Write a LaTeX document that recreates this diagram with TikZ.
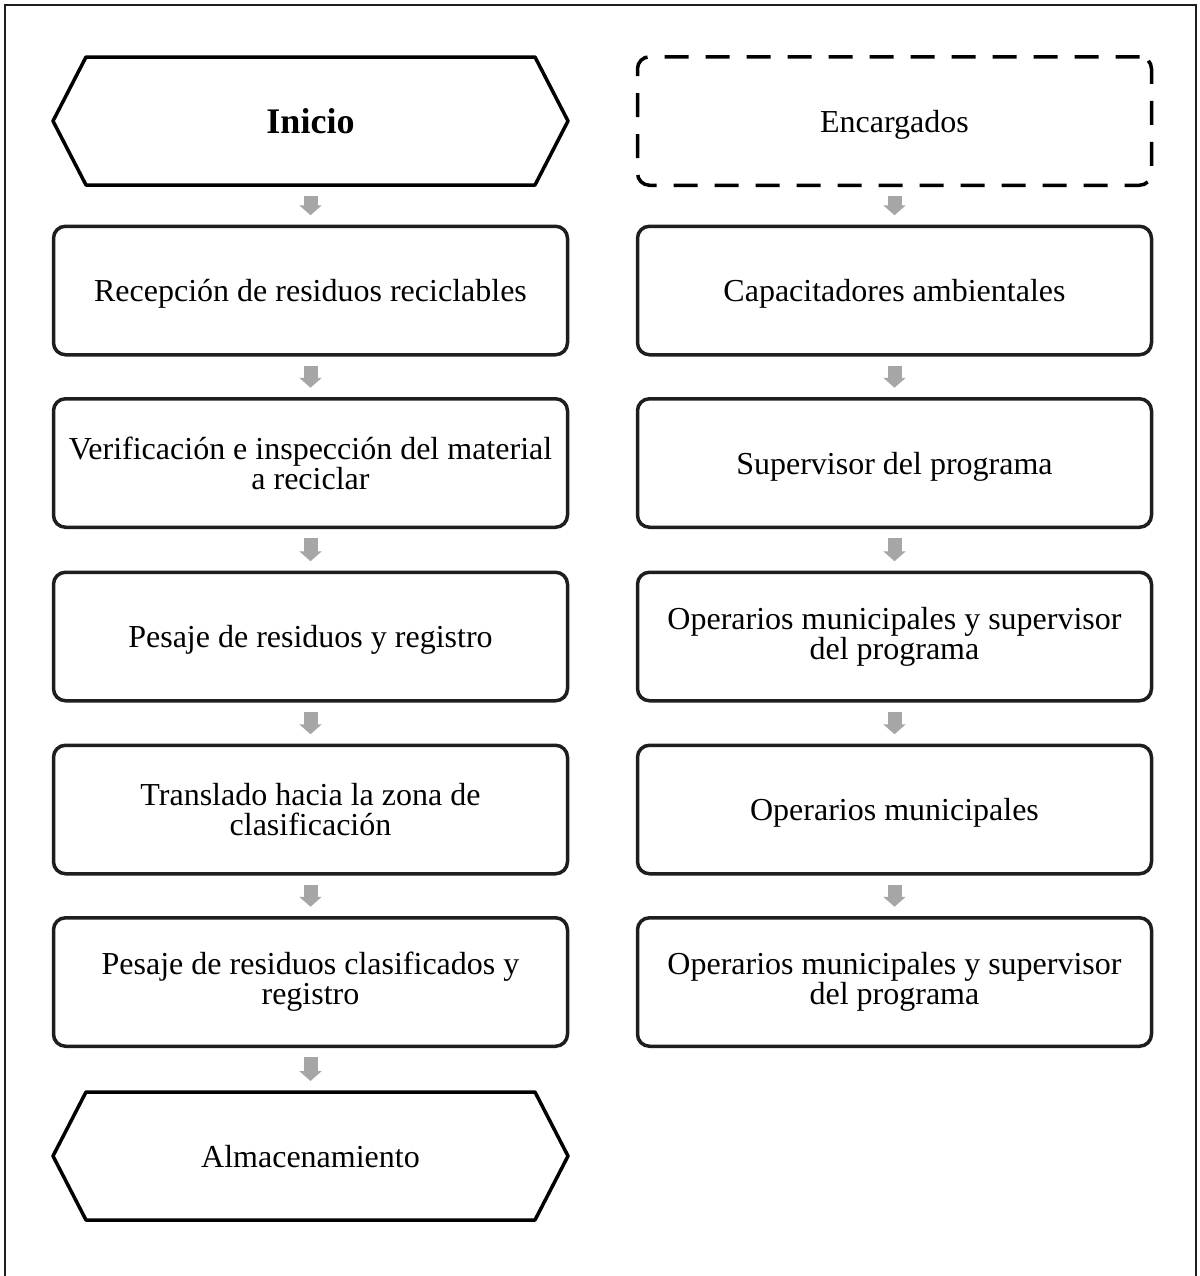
\documentclass[tikz,border=0pt]{standalone}
\usepackage{fontspec}
\setmainfont{Liberation Serif}
\usetikzlibrary{calc,arrows.meta}

\definecolor{edgeink}{HTML}{1E1E1E}
\definecolor{flowgray}{HTML}{A6A6A6}

\tikzset{
  every node/.style={font=\fontsize{16pt}{15pt}\selectfont, text=black},
  stepbox/.style={draw=edgeink, line width=1.75pt, rounded corners=6pt,
    minimum width=257pt, minimum height=64.25pt, align=center,
    outer sep=0pt, inner sep=0pt},
  oneline/.style={text depth=0pt},
  dashbox/.style={stepbox, draw=black, dash pattern=on 12pt off 8.5pt},
  hexslot/.style={minimum width=257.5pt, minimum height=64pt, align=center,
    outer sep=0pt, inner sep=0pt, text depth=0pt},
  hexline/.style={draw=black, line width=1.75pt, line join=round},
  flow/.style={draw=flowgray, line width=7pt,
    -{Triangle[width=11pt,length=5pt]}, shorten <=5.5pt, shorten >=5.5pt},
  frame/.style={draw=edgeink, line width=1pt},
}

\begin{document}
\begin{tikzpicture}[x=0.5pt, y=-0.5pt]
  \useasboundingbox (0,0) rectangle (1200,1276);

  % open frame around the chart
  \draw[frame] (5,1276) -- (5,5) -- (1196,5) -- (1196,1276);

  % process column
  \node[hexslot] (ini) at (310.5,121)
    {\fontsize{18pt}{18pt}\selectfont\bfseries Inicio};
  \node[stepbox, oneline] (l1) at (310.5,290.5) {Recepción de residuos reciclables};
  \node[stepbox] (l2) at (310.5,463) {Verificación e inspección del material\\a reciclar};
  \node[stepbox, oneline] (l3) at (310.5,636.5) {Pesaje de residuos y registro};
  \node[stepbox] (l4) at (310.5,809.5) {Translado hacia la zona de\\clasificación};
  \node[stepbox] (l5) at (310.5,982) {Pesaje de residuos clasificados y\\registro};
  \node[hexslot] (alm) at (310.5,1156) {Almacenamiento};

  % hexagonal terminators
  \foreach \h in {ini,alm}{
    \draw[hexline] (\h.west) -- ($(\h.north west)+(33,0)$)
      -- ($(\h.north east)+(-33,0)$) -- (\h.east)
      -- ($(\h.south east)+(-33,0)$) -- ($(\h.south west)+(33,0)$) -- cycle;
  }

  % responsibility column
  \node[dashbox, oneline] (enc) at (894.5,121) {Encargados};
  \node[stepbox, oneline] (r1) at (894.5,290.5) {Capacitadores ambientales};
  \node[stepbox, oneline] (r2) at (894.5,463) {Supervisor del programa};
  \node[stepbox] (r3) at (894.5,636.5) {Operarios municipales y supervisor\\del programa};
  \node[stepbox, oneline] (r4) at (894.5,809.5) {Operarios municipales};
  \node[stepbox] (r5) at (894.5,982) {Operarios municipales y supervisor\\del programa};

  % flow arrows
  \draw[flow] (ini.south) -- (l1.north);
  \draw[flow] (l1.south) -- (l2.north);
  \draw[flow] (l2.south) -- (l3.north);
  \draw[flow] (l3.south) -- (l4.north);
  \draw[flow] (l4.south) -- (l5.north);
  \draw[flow] (l5.south) -- (alm.north);

  \draw[flow] (enc.south) -- (r1.north);
  \draw[flow] (r1.south) -- (r2.north);
  \draw[flow] (r2.south) -- (r3.north);
  \draw[flow] (r3.south) -- (r4.north);
  \draw[flow] (r4.south) -- (r5.north);
\end{tikzpicture}
\end{document}
